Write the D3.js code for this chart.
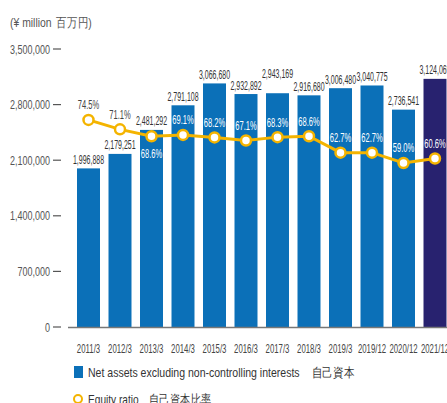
<!DOCTYPE html>
<html>
<head>
<meta charset="utf-8">
<script src="https://cdn.jsdelivr.net/npm/d3@7"></script>
<style>
  body { margin: 0; background: #fff; }
  svg { display: block; }
  text { font-family: 'Liberation Sans', Arial, sans-serif; fill: #444; }
</style>
</head>
<body>
<svg width="447" height="403"></svg>
<script>
const periods = ['2011/3', '2012/3', '2013/3', '2014/3', '2015/3', '2016/3', '2017/3', '2018/3', '2019/3', '2019/12', '2020/12', '2021/12'];
const netAssets = [1996888, 2179251, 2481292, 2791108, 3066680, 2932892, 2943169, 2916680, 3006480, 3040775, 2736541, 3124069];
const equityRatio = [74.5, 71.1, 68.6, 69.1, 68.2, 67.1, 68.3, 68.6, 62.7, 62.7, 59.0, 60.6];
const yTicks = [0, 700000, 1400000, 2100000, 2800000, 3500000];

const BLUE = '#0b70b8';
const NAVY = '#28226f';
const GOLD = '#f4b400';

const svg = d3.select('svg');
const fmt = d3.format(',');

// the source uses a tall, very condensed face, so squeeze text horizontally
const squeeze = (tx, ty, sx) => `translate(${tx},${ty}) scale(${sx},1)`;

const x = d3.scaleBand()
  .domain(periods)
  .range([72.75, 450.75])
  .paddingInner(0.27)
  .paddingOuter(0.135);

const y = d3.scaleLinear([0, 3500000], [327, 49]);
const yPct = d3.scaleLinear([0, 100], [327, 49]);

// unit label
svg.append('text')
  .attr('transform', squeeze(10, 27, 0.8))
  .style('font-size', '13px')
  .style('fill', '#555')
  .text('(¥ million')
  .append('tspan')
    .attr('dx', 6)
    .text('百万円)');

// y axis: labels with a short dash, no domain line
const yAxis = svg.append('g');
yAxis.selectAll('text')
  .data(yTicks)
  .join('text')
    .attr('transform', (d) => squeeze(50, y(d) + 4.5, 0.75))
    .attr('text-anchor', 'end')
    .style('font-size', '12px')
    .style('fill', '#555')
    .text((d) => fmt(d));
yAxis.selectAll('line')
  .data(yTicks)
  .join('line')
    .attr('x1', 53)
    .attr('x2', 61)
    .attr('y1', (d) => y(d))
    .attr('y2', (d) => y(d))
    .attr('stroke', '#555')
    .attr('stroke-width', 1.2);

// bars
svg.append('g')
  .selectAll('rect')
  .data(netAssets)
  .join('rect')
    .attr('x', (d, i) => x(periods[i]))
    .attr('y', (d) => y(d))
    .attr('width', x.bandwidth())
    .attr('height', (d) => y(0) - y(d))
    .attr('fill', (d, i) => i === periods.length - 1 ? NAVY : BLUE);

// baseline
svg.append('line')
  .attr('x1', 68)
  .attr('x2', 447)
  .attr('y1', y(0) + 0.5)
  .attr('y2', y(0) + 0.5)
  .attr('stroke', '#777')
  .attr('stroke-width', 1.3);

// bar value labels; a label sitting level with both neighbours is lifted
const labelBase = netAssets.map((d) => y(d) - 4.5);
const lifted = labelBase.map((b, i) => {
  const prev = labelBase[i - 1];
  const next = labelBase[i + 1];
  return prev !== undefined && next !== undefined &&
    Math.abs(prev - b) < 3 && Math.abs(next - b) < 3 ? b - 11 : b;
});
svg.append('g')
  .selectAll('text')
  .data(netAssets)
  .join('text')
    .attr('transform', (d, i) => squeeze(x(periods[i]) + x.bandwidth() / 2, lifted[i], 0.56))
    .attr('text-anchor', 'middle')
    .style('font-size', '12.5px')
    .style('fill', '#333')
    .text((d) => fmt(d));

// x labels
svg.append('g')
  .selectAll('text')
  .data(periods)
  .join('text')
    .attr('transform', (d) => squeeze(x(d) + x.bandwidth() / 2, 353, 0.6))
    .attr('text-anchor', 'middle')
    .style('font-size', '13px')
    .style('fill', '#444')
    .text((d) => d);

// equity ratio line
const cx = (i) => x(periods[i]) + x.bandwidth() / 2;
const line = d3.line()
  .x((d, i) => cx(i))
  .y((d) => yPct(d));

svg.append('path')
  .datum(equityRatio)
  .attr('fill', 'none')
  .attr('stroke', GOLD)
  .attr('stroke-width', 3)
  .attr('d', line);

svg.append('g')
  .selectAll('circle')
  .data(equityRatio)
  .join('circle')
    .attr('cx', (d, i) => cx(i))
    .attr('cy', (d) => yPct(d))
    .attr('r', 5)
    .attr('fill', '#fff')
    .attr('stroke', GOLD)
    .attr('stroke-width', 2.5);

// percentage labels: above the point, below if it would clash with the bar top
svg.append('g')
  .selectAll('text')
  .data(equityRatio)
  .join('text')
    .each(function (d, i) {
      const cy = yPct(d);
      const top = y(netAssets[i]);
      let mid = cy - 15;
      let colour = '#fff';
      if (mid + 14 < top) {
        colour = '#444';
      } else if (mid - 6 <= top) {
        mid = cy + 17;
      }
      d3.select(this)
        .attr('transform', squeeze(cx(i), mid + 4.5, 0.63))
        .style('fill', colour);
    })
    .attr('text-anchor', 'middle')
    .style('font-size', '12px')
    .text((d) => `${d.toFixed(1)}%`);

// legend
const legend = svg.append('g');
legend.append('rect')
  .attr('x', 74)
  .attr('y', 366)
  .attr('width', 9)
  .attr('height', 12)
  .attr('fill', BLUE);
legend.append('text')
  .attr('transform', squeeze(88, 377, 0.81))
  .style('font-size', '13px')
  .style('fill', '#333')
  .text('Net assets excluding non-controlling interests')
  .append('tspan')
    .attr('dx', 15)
    .text('自己資本');
legend.append('circle')
  .attr('cx', 78)
  .attr('cy', 399)
  .attr('r', 4)
  .attr('fill', '#fff')
  .attr('stroke', GOLD)
  .attr('stroke-width', 2);
legend.append('text')
  .attr('transform', squeeze(88, 404, 0.78))
  .style('font-size', '13px')
  .style('fill', '#333')
  .text('Equity ratio')
  .append('tspan')
    .attr('dx', 13)
    .text('自己資本比率');
</script>
</body>
</html>
